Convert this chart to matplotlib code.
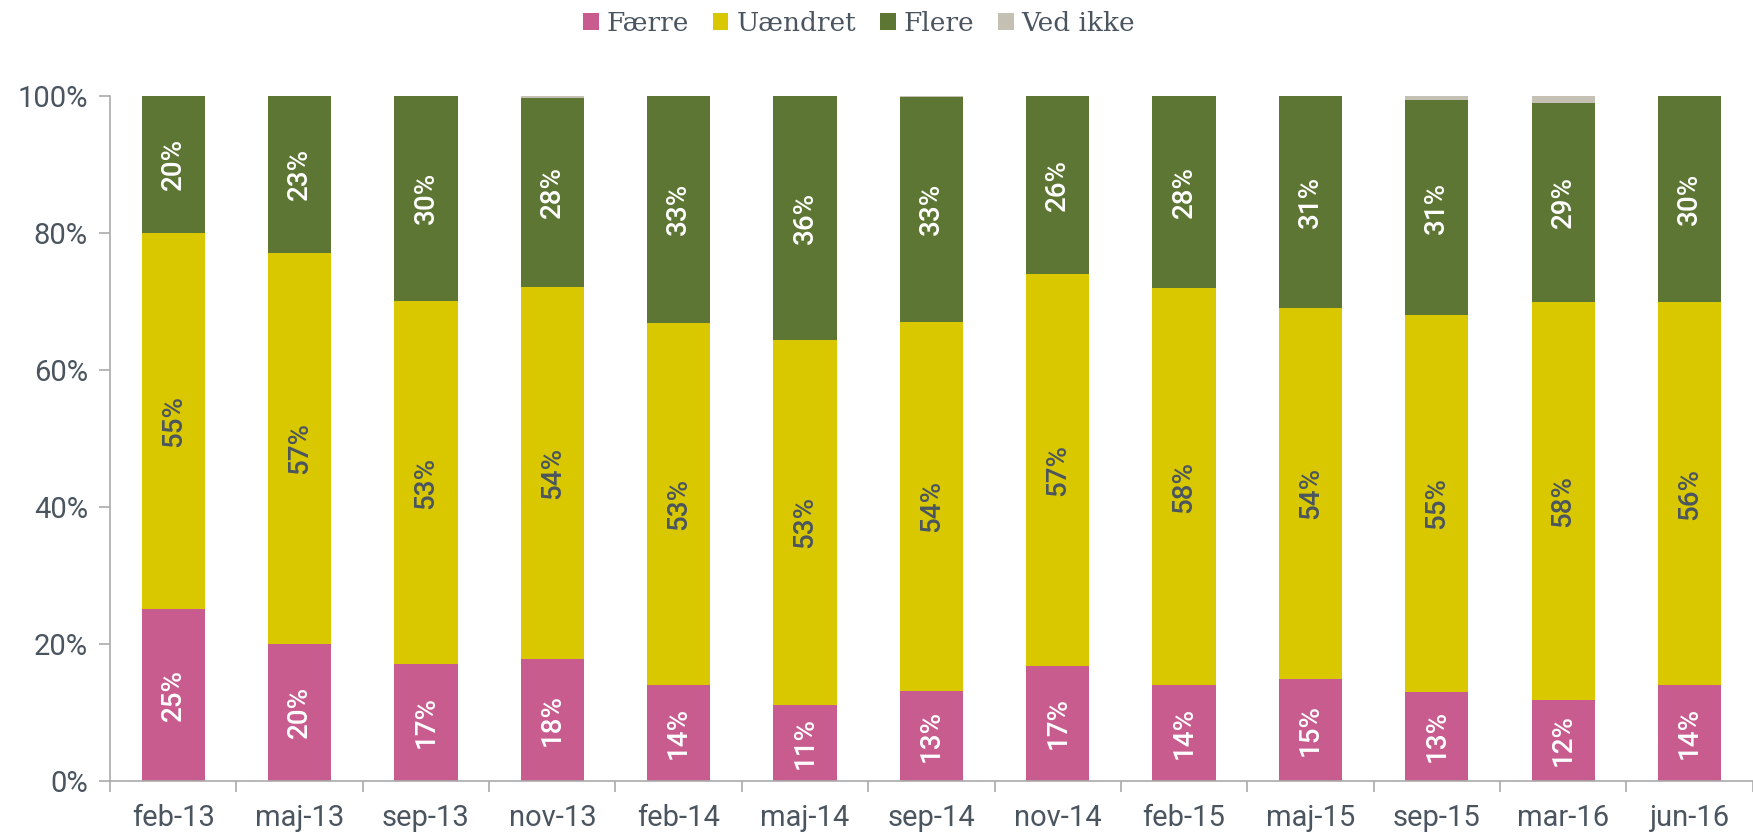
import matplotlib.pyplot as plt
import numpy as np

plt.switch_backend("agg")

categories = ["feb-13", "maj-13", "sep-13", "nov-13", "feb-14", "maj-14", "sep-14",
              "nov-14", "feb-15", "maj-15", "sep-15", "mar-16", "jun-16"]
faerre = [25.0, 20.0, 17.0, 17.8, 13.9, 11.1, 13.1, 16.8, 13.9, 14.9, 13.0, 11.8, 13.9]
uaendret = [55.0, 57.0, 53.0, 54.3, 52.9, 53.3, 53.9, 57.2, 58.0, 54.1, 55.0, 58.1, 56.0]
flere = [20.0, 23.0, 30.0, 27.6, 33.2, 35.6, 32.8, 26.0, 28.1, 31.0, 31.3, 29.0, 30.1]
ved_ikke = [0.0, 0.0, 0.0, 0.3, 0.0, 0.0, 0.2, 0.0, 0.0, 0.0, 0.7, 1.1, 0.0]

series = [
    ("Færre", faerre, "#c85c8f", "white"),
    ("Uændret", uaendret, "#d9c800", "#4a5560"),
    ("Flere", flere, "#5e7634", "white"),
    ("Ved ikke", ved_ikke, "#c4c1b4", "#4a5560"),
]

text_col = "#4a5560"
plt.rcParams["font.family"] = ["Roboto", "DejaVu Sans"]

fig = plt.figure(figsize=(17.53, 8.32), dpi=100)
ax = fig.add_axes([0.0628, 0.0617, 0.937, 0.8233])

x = np.arange(len(categories))
bottom = np.zeros(len(categories))
handles = []
for name, vals, col, lab_col in series:
    vals = np.array(vals)
    bars = ax.bar(x, vals, width=0.5, bottom=bottom, color=col, label=name)
    handles.append(bars)
    for xi, b, v in zip(x, bottom, vals):
        if v >= 2:
            ax.text(xi, b + v / 2, f"{round(v)}%", rotation=90, ha="center",
                    va="center", color=lab_col, fontsize=20, fontweight="medium")
    bottom += vals

ax.set_xlim(-0.5, len(categories) - 0.5)
ax.set_ylim(0, 100)
ax.set_yticks(np.arange(0, 101, 20))
ax.set_yticklabels([f"{v}%" for v in range(0, 101, 20)])
ax.set_xticks(x)
ax.set_xticklabels(categories)
ax.set_xticks(np.arange(-0.5, len(categories), 1), minor=True)
ax.tick_params(axis="x", which="major", length=0, pad=17, labelsize=21, labelcolor=text_col)
ax.tick_params(axis="x", which="minor", length=8, color="#aaaaaa", width=1.2)
ax.tick_params(axis="y", length=8, color="#aaaaaa", width=1.2, pad=8,
               labelsize=21, labelcolor=text_col)
for s in ["top", "right"]:
    ax.spines[s].set_visible(False)
for s in ["left", "bottom"]:
    ax.spines[s].set_color("#aaaaaa")
    ax.spines[s].set_linewidth(1.2)

fig.legend(handles=handles, loc="center", bbox_to_anchor=(0.49, 0.972), ncol=4,
           frameon=False, handlelength=0.6, handleheight=0.6, handletextpad=0.3,
           columnspacing=0.9, prop={"family": "DejaVu Serif", "size": 19},
           labelcolor=text_col)

fig.savefig("out.png", dpi=100)
